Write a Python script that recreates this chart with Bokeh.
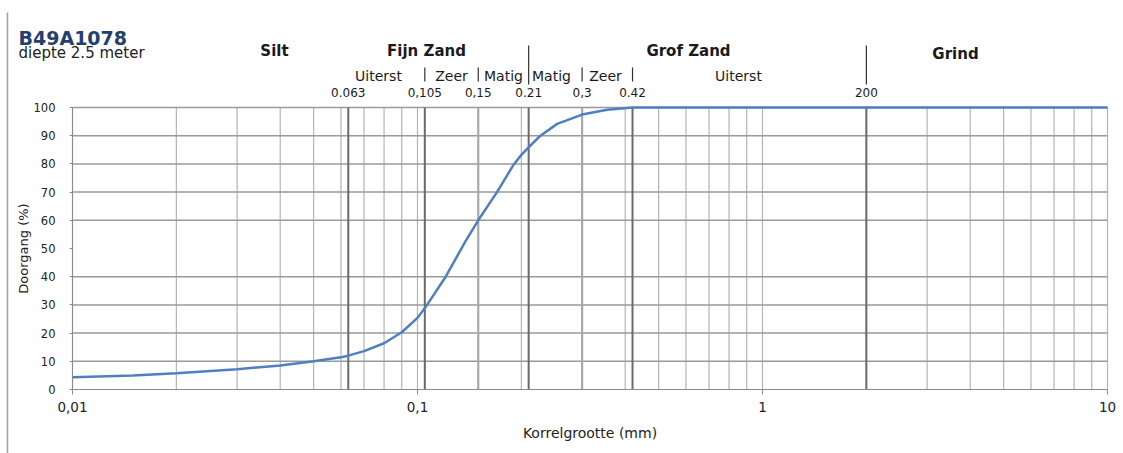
from bokeh.plotting import figure
from bokeh.models import Range1d, FixedTicker, CustomJSTickFormatter
from bokeh.core.properties import value
from bokeh.embed import file_html
from bokeh.resources import INLINE

# ---------------- data ----------------
grain_mm = [0.01, 0.015, 0.02, 0.03, 0.04, 0.05, 0.06, 0.063, 0.07, 0.08, 0.09,
            0.1, 0.1066, 0.1207, 0.1377, 0.15, 0.17, 0.1894, 0.2, 0.21, 0.2272,
            0.254, 0.3, 0.355, 0.42, 1.0, 10.0]
passing_pct = [4.3, 5.0, 5.8, 7.2, 8.5, 10.0, 11.4, 12.0, 13.6, 16.4, 20.3,
               25.4, 30.0, 40.0, 52.5, 60.0, 70.0, 79.5, 83.2, 85.9, 90.0,
               94.2, 97.5, 99.2, 100.0, 100.0, 100.0]

x_ticks = [0.01, 0.1, 1, 10]
y_ticks = [0, 10, 20, 30, 40, 50, 60, 70, 80, 90, 100]
y_grid = [10, 20, 30, 40, 60, 70, 80, 90, 100]

boundaries_dark = [0.063, 0.105, 0.21, 0.42, 2.0]
boundaries_light = [0.15, 0.3]
boundary_vals = [0.063, 0.105, 0.15, 0.21, 0.3, 0.42, 2.0]
boundary_labels = ["0.063", "0,105", "0,15", "0.21", "0,3", "0.42", "200"]

main_classes = ["Silt", "Fijn Zand", "Grof Zand", "Grind"]
sub_classes = ["Uiterst", "Zeer", "Matig", "Matig", "Zeer", "Uiterst"]
short_sep = [0.105, 0.15, 0.3, 0.42]
tall_sep = [0.21, 2.0]

title_text = "B49A1078"
subtitle_text = "diepte 2.5 meter"

# ---------------- layout helpers (page pixels -> data) ----------------
W, H = 1123, 453
X0_PX, DEC_PX = 72, 345.0          # page x of 0.01 and pixels per decade
Y0_PX, PX_PER_PCT = 389, 2.82      # page y of 0 % and pixels per percent

def px2x(px):
    return 10 ** ((px - X0_PX) / DEC_PX - 2)

def py2y(py):
    return (Y0_PX - py) / PX_PER_PCT

FONT = value("DejaVu Sans")
TXT = "#1a1a1a"

p = figure(width=W, height=H, x_axis_type="log", output_backend="svg",
           toolbar_location=None,
           x_range=Range1d(px2x(0), px2x(W)), y_range=Range1d(py2y(H), py2y(0)),
           min_border_left=0, min_border_right=0, min_border_top=0, min_border_bottom=0)
p.outline_line_color = None
p.xgrid.visible = False
p.ygrid.visible = False

# ---------------- grid ----------------
minor_x = [0.01] + [m * 10 ** e for e in (-2, -1, 0) for m in range(2, 10)] + [0.1, 1, 10]
p.segment(x0=minor_x, y0=[0] * len(minor_x), x1=minor_x, y1=[100] * len(minor_x),
          line_color="#b4b4b4", line_width=1.2)
p.segment(x0=[0.01] * len(y_grid), y0=y_grid, x1=[10] * len(y_grid), y1=y_grid,
          line_color="#9a9a9a", line_width=1.5)
p.segment(x0=boundaries_light, y0=[0] * 2, x1=boundaries_light, y1=[100] * 2,
          line_color="#a8a8a8", line_width=2.2)
p.segment(x0=boundaries_dark, y0=[0] * 5, x1=boundaries_dark, y1=[100] * 5,
          line_color="#6a6a6a", line_width=2)

# left page frame line
p.segment(x0=[px2x(7)], y0=[py2y(12)], x1=[px2x(7)], y1=[py2y(H)],
          line_color="#a0a0a0", line_width=1.5)

# ---------------- curve ----------------
p.line(grain_mm, passing_pct, line_color="#4f7fc0", line_width=2.5)

# ---------------- header ----------------
p.text(x=[px2x(18)], y=[py2y(37.5)], text=[title_text], text_font=FONT,
       text_font_size="19px", text_font_style="bold", text_color="#24406f",
       text_align="left", text_baseline="middle")
p.text(x=[px2x(18)], y=[py2y(52)], text=[subtitle_text], text_font=FONT,
       text_font_size="15px", text_color="#222222", text_align="left",
       text_baseline="middle")

main_x = [px2x(274), px2x(426), px2x(688), px2x(955)]
main_y = [py2y(50), py2y(50), py2y(50), py2y(53)]
p.text(x=main_x, y=main_y, text=main_classes, text_font=FONT, text_font_size="15px",
       text_font_style="bold", text_align="center", text_baseline="middle",
       text_color=TXT)
sub_x = [px2x(378), px2x(451), px2x(503), px2x(551), px2x(605), px2x(738)]
p.text(x=sub_x, y=[py2y(75)] * 6, text=sub_classes, text_font=FONT,
       text_font_size="14px", text_align="center", text_baseline="middle",
       text_color=TXT)
p.text(x=boundary_vals, y=[py2y(92)] * 7, text=boundary_labels, text_font=FONT,
       text_font_size="12px", text_align="center", text_baseline="middle",
       text_color=TXT)
p.segment(x0=short_sep, y0=[py2y(67)] * 4, x1=short_sep, y1=[py2y(81)] * 4,
          line_color="#303030", line_width=1.2)
p.segment(x0=tall_sep, y0=[py2y(45)] * 2, x1=tall_sep, y1=[py2y(84)] * 2,
          line_color="#303030", line_width=1.2)

# ---------------- axes ----------------
xa = p.xaxis[0]
xa.fixed_location = 0
xa.ticker = FixedTicker(ticks=x_ticks, minor_ticks=[])
xa.bounds = (0.01, 10)
xa.formatter = CustomJSTickFormatter(code="return String(tick).replace('.', ',');")
xa.axis_label = "Korrelgrootte (mm)"
xa.axis_label_text_font = "DejaVu Sans"
xa.axis_label_text_font_size = "14px"
xa.axis_label_text_font_style = "normal"
xa.axis_label_text_color = "#222222"
xa.axis_label_standoff = 10
xa.major_label_text_font = "DejaVu Sans"
xa.major_label_text_font_size = "13.5px"
xa.major_label_text_color = "#222222"
xa.major_label_standoff = 7
xa.major_tick_out = 5
xa.major_tick_in = 0
xa.minor_tick_out = 0
xa.minor_tick_in = 0
xa.axis_line_color = "#8a8a8a"
xa.major_tick_line_color = "#8a8a8a"

ya = p.yaxis[0]
ya.fixed_location = 0.01
ya.ticker = FixedTicker(ticks=y_ticks, minor_ticks=[])
ya.bounds = (0, 100)
ya.axis_label = "Doorgang (%)"
ya.axis_label_text_font = "DejaVu Sans"
ya.axis_label_text_font_size = "13px"
ya.axis_label_text_font_style = "normal"
ya.axis_label_text_color = "#222222"
ya.axis_label_standoff = 0
ya.major_label_text_font = "DejaVu Sans"
ya.major_label_text_font_size = "11.5px"
ya.major_label_text_color = "#222222"
ya.major_label_standoff = 14
ya.major_tick_out = 3
ya.major_tick_in = 0
ya.minor_tick_out = 0
ya.minor_tick_in = 0
ya.axis_line_color = "#8a8a8a"
ya.major_tick_line_color = "#8a8a8a"

open("out.html", "w").write(file_html(p, INLINE))
